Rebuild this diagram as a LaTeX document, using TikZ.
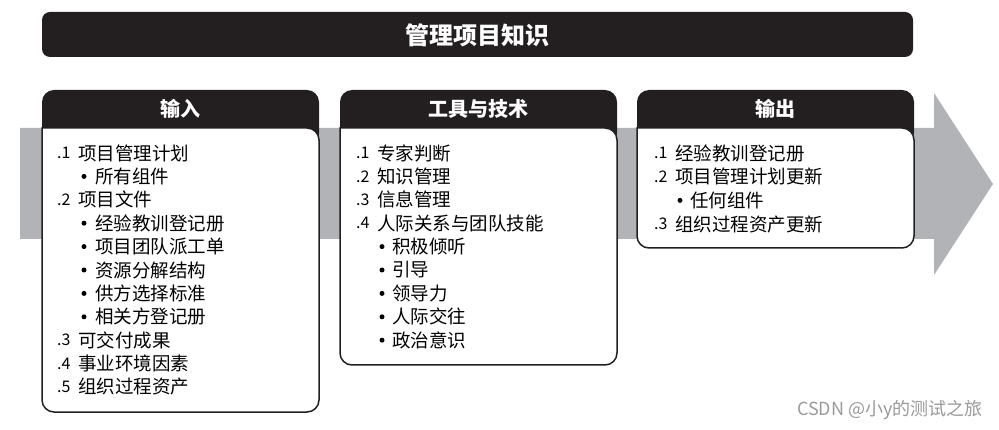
\documentclass[tikz,border=0pt]{standalone}
\usepackage{fontspec}
\setmainfont{Noto Sans CJK SC}
\definecolor{boxdark}{HTML}{231F20}
\definecolor{arrowgray}{HTML}{B1B3B6}
\definecolor{markgray}{HTML}{9A9A9A}
\begin{document}
\begin{tikzpicture}[x=1pt,y=-1pt,
  head/.style={text=white, font=\bfseries\fontsize{20}{20}\selectfont, inner sep=0pt},
  item/.style={anchor=west, inner sep=0pt, font=\fontsize{18.5}{18.5}\selectfont},
  num/.style={anchor=west, inner sep=0pt, font=\fontsize{16}{16}\selectfont},
  dot/.style={circle, fill=black, inner sep=0pt, minimum size=5pt}]
\useasboundingbox (0,0) rectangle (999,430);
% process arrow
\fill[arrowgray] (20,128) -- (934,128) -- (934,93) -- (993,184) -- (934,275) -- (934,239) -- (20,239) -- cycle;
% title bar
\fill[boxdark, rounded corners=8pt] (42,12) rectangle (913,57);
\node[text=white, font=\bfseries\fontsize{24}{24}\selectfont, inner sep=0pt] (title) at (477.5,35) {管理项目知识};
% boxes
\foreach \a/\b/\c/\h/\nm in {42/319/412/输入/in, 340/617/365/工具与技术/tt, 637/914/248/输出/out} {
\fill[boxdark, rounded corners=12pt] (\a,90) rectangle (\b,145);
\filldraw[fill=white, draw=boxdark, line width=1.5pt] (\a,128) [rounded corners=12pt] -- (\a,\c) -- (\b,\c) -- (\b,128) [sharp corners] -- cycle;
\node[head] (\nm-head) at ({(\a+\b)/2},109) {\h};
}
% inputs
\foreach \r/\n/\t in {0/.1/项目管理计划, 2/.2/项目文件, 8/.3/可交付成果, 9/.4/事业环境因素, 10/.5/组织过程资产} {
\node[num] (in-n\r) at (57,153+23.4*\r) {\n};
\node[item] (in-t\r) at (78,153+23.4*\r) {\t};
}
\foreach \r/\t in {1/所有组件, 3/经验教训登记册, 4/项目团队派工单, 5/资源分解结构, 6/供方选择标准, 7/相关方登记册} {
\node[dot] (in-d\r) at (84,153+23.4*\r) {};
\node[item] (in-t\r) at (95,153+23.4*\r) {\t};
}
% tools and techniques
\foreach \r/\n/\t in {0/.1/专家判断, 1/.2/知识管理, 2/.3/信息管理, 3/.4/人际关系与团队技能} {
\node[num] (tt-n\r) at (356,153+23.4*\r) {\n};
\node[item] (tt-t\r) at (377,153+23.4*\r) {\t};
}
\foreach \r/\t in {4/积极倾听, 5/引导, 6/领导力, 7/人际交往, 8/政治意识} {
\node[dot] (tt-d\r) at (382,153+23.4*\r) {};
\node[item] (tt-t\r) at (392,153+23.4*\r) {\t};
}
% outputs
\foreach \r/\n/\t in {0/.1/经验教训登记册, 1/.2/项目管理计划更新, 3/.3/组织过程资产更新} {
\node[num] (out-n\r) at (654,153+23.7*\r) {\n};
\node[item] (out-t\r) at (675,153+23.7*\r) {\t};
}
\foreach \r/\t in {2/任何组件} {
\node[dot] (out-d\r) at (680,153+23.7*\r) {};
\node[item] (out-t\r) at (690,153+23.7*\r) {\t};
}
\node[anchor=east, text=markgray, inner sep=0pt, font=\fontsize{18}{18}\selectfont] (mark) at (983,410) {CSDN @小y的测试之旅};
\end{tikzpicture}
\end{document}
